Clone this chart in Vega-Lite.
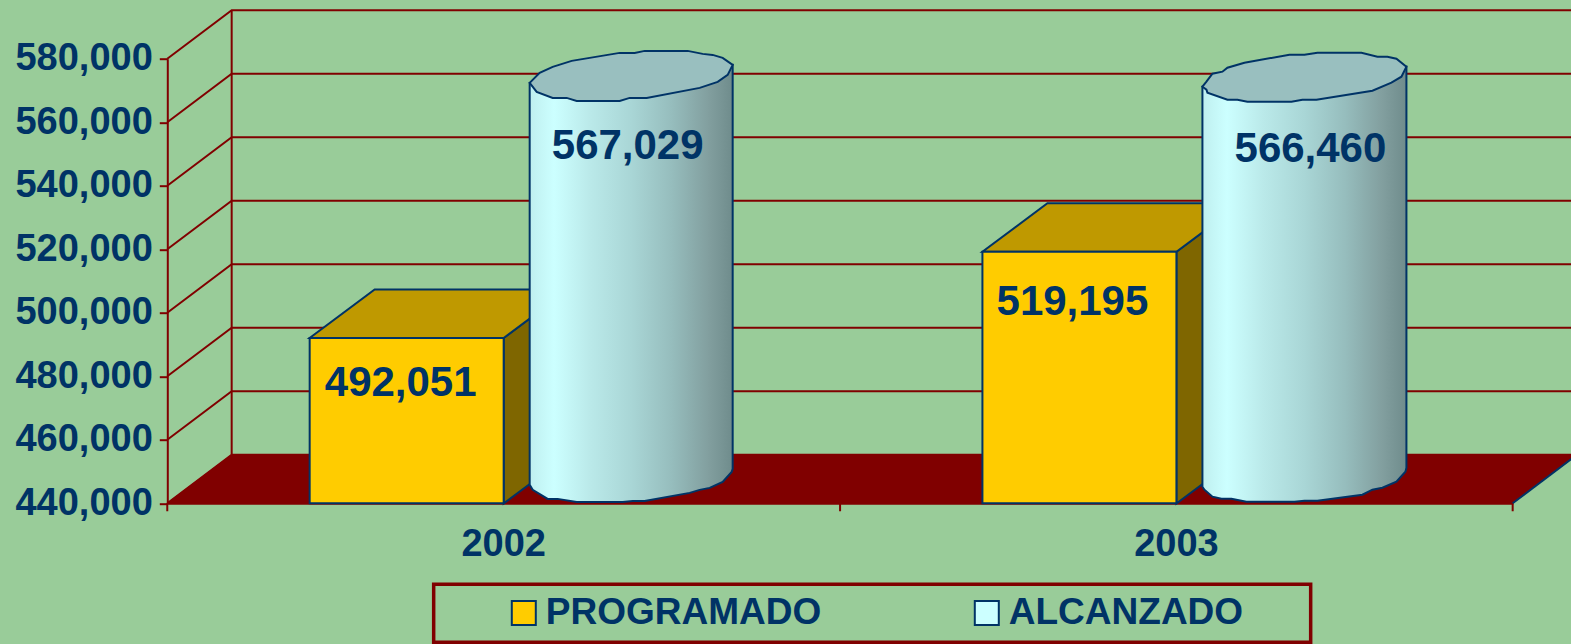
{
"$schema":"https://vega.github.io/schema/vega-lite/v6.json",
"width":1345.5,"height":444.5,
"autosize":{"type":"none"},
"padding":{"left":167.3,"top":58.7,"right":58.2,"bottom":140.8},
"background":"#99CC99",
"config":{"view":{"stroke":null},"font":"Liberation Sans"},
"resolve":{"scale":{"shape":"independent"}},
"datasets":{
"bars":[
{"year":"2002","serie":"PROGRAMADO","value":492051},
{"year":"2002","serie":"ALCANZADO","value":567029},
{"year":"2003","serie":"PROGRAMADO","value":519195},
{"year":"2003","serie":"ALCANZADO","value":566460}],
"ticks":[{"tick":440000},{"tick":460000},{"tick":480000},{"tick":500000},{"tick":520000},{"tick":540000},{"tick":560000},{"tick":580000}]
},
"layer":[
{"data":{"name":"ticks"},
 "mark":{"type":"point","shape":"M-336.4,0 L-272,-48.5 H1075","size":4,"filled":false,"opacity":1,"stroke":"#800000","strokeWidth":2},
 "encoding":{"x":{"datum":"2002","type":"nominal","scale":{"domain":["2002","2003"],"paddingInner":0,"paddingOuter":0},
   "axis":{"title":null,"labelAngle":0,"ticks":false,"domainColor":"#800000","domainWidth":2,"labelPadding":22,"labelFont":"Liberation Sans","labelFontWeight":"bold","labelFontSize":38,"labelColor":"#003366"}},
   "y":{"field":"tick","type":"quantitative","scale":{"domain":[440000,580000],"nice":false,"zero":false},
   "axis":{"title":null,"values":[440000,460000,480000,500000,520000,540000,560000,580000],"labelExpr":"format(datum.value,',')","grid":false,"domainColor":"#800000","domainWidth":2,"tickColor":"#800000","tickWidth":2,"tickSize":8,"labelPadding":7,"labelFont":"Liberation Sans","labelFontWeight":"bold","labelFontSize":38,"labelColor":"#003366"}}}},
{"data":{"name":"bars"},"transform":[{"filter":"datum.year=='2002' && datum.serie=='PROGRAMADO'"}],
 "mark":{"type":"rule","stroke":"#800000","strokeWidth":2,"xOffset":-272,"yOffset":-48.5,"y2Offset":-48.5},
 "encoding":{"x":{"datum":"2002","type":"nominal"},"y":{"datum":440000,"type":"quantitative"},"y2":{"datum":580000}}},
{"data":{"name":"bars"},"transform":[{"filter":"datum.year=='2002' && datum.serie=='PROGRAMADO'"}],
 "mark":{"type":"point","shape":"M-336.4,0 L1009,0 L1073.5,-48.5 L-272,-48.5 Z","size":4,"filled":true,"opacity":1,"fill":"#800000","stroke":"#800000","strokeWidth":1},
 "encoding":{"x":{"datum":"2002","type":"nominal"},"y":{"datum":440000,"type":"quantitative"}}},
{"data":{"name":"bars"},"transform":[{"filter":"datum.year=='2002' && datum.serie=='PROGRAMADO'"}],
 "mark":{"type":"point","shape":"M-336.4,0 V8 M336.4,0 V8 M1009,0 V8","size":4,"filled":false,"opacity":1,"stroke":"#800000","strokeWidth":2},
 "encoding":{"x":{"datum":"2002","type":"nominal"},"y":{"datum":440000,"type":"quantitative"}}},
{"data":{"name":"bars"},"transform":[{"filter":"datum.year=='2002' && datum.serie=='PROGRAMADO'"}],
 "mark":{"type":"point","shape":"M1009,0 L1073.5,-48.5","size":4,"filled":false,"opacity":1,"stroke":"#003366","strokeWidth":2},
 "encoding":{"x":{"datum":"2002","type":"nominal"},"y":{"datum":440000,"type":"quantitative"}}},
{"data":{"name":"bars"},"transform":[{"filter":"datum.year=='2002' && datum.serie=='PROGRAMADO'"}],
 "mark":{"type":"point","shape":"M-70,81 H807 V139 H-70 Z","size":4,"filled":false,"opacity":1,"stroke":"#800000","strokeWidth":3.5},
 "encoding":{"x":{"datum":"2002","type":"nominal"},"y":{"datum":440000,"type":"quantitative"}}},
{"data":{"name":"bars"},"transform":[{"filter":"datum.serie=='PROGRAMADO'"}],
 "mark":{"type":"point","size":4,"filled":true,"opacity":1,"fill":"#7F6600","stroke":"#003366","strokeWidth":2},
 "encoding":{"x":{"field":"year","type":"nominal"},"y":{"field":"value","type":"quantitative"},
  "shape":{"field":"year","type":"nominal","legend":null,"scale":{"domain":["2002","2003"],"range":["M0,0 L65,-48.5 L65,117 L0,165.5 Z","M0,0 L65,-48.5 L65,203.2 L0,251.7 Z"]}}}},
{"data":{"name":"bars"},"transform":[{"filter":"datum.serie=='PROGRAMADO'"}],
 "mark":{"type":"point","shape":"M-194,0 L0,0 L65,-48.5 L-129,-48.5 Z","size":4,"filled":true,"opacity":1,"fill":"#BF9900","stroke":"#003366","strokeWidth":2},
 "encoding":{"x":{"field":"year","type":"nominal"},"y":{"field":"value","type":"quantitative"}}},
{"data":{"name":"bars"},"transform":[{"filter":"datum.serie=='PROGRAMADO'"}],
 "mark":{"type":"bar","width":194,"xOffset":-97,"stroke":"#003366","strokeWidth":2},
 "encoding":{"x":{"field":"year","type":"nominal"},"y":{"field":"value","type":"quantitative"},"y2":{"datum":440000},
  "color":{"field":"serie","type":"nominal","scale":{"domain":["PROGRAMADO","ALCANZADO"],"range":["#FFCC00","#CCFFFF"]},
   "legend":{"title":null,"orient":"none","legendX":338,"legendY":535.5,"direction":"horizontal","columns":2,"columnPadding":147,"padding":0,"symbolType":"square","symbolSize":576,"symbolStrokeColor":"#003366","symbolStrokeWidth":2,"symbolOpacity":1,"labelFont":"Liberation Sans","labelFontWeight":"bold","labelFontSize":37,"labelColor":"#003366","labelLimit":400,"labelOffset":3.5}}}},
{"data":{"name":"bars"},"transform":[{"filter":"datum.serie=='ALCANZADO'"}],
 "mark":{"type":"point","size":4,"filled":true,"opacity":1,"stroke":"#003366","strokeWidth":2,
  "fill":{"gradient":"linear","x1":0,"x2":1,"y1":0,"y2":0,"stops":[{"offset":0,"color":"#BFEFEF"},{"offset":0.12,"color":"#CCFFFF"},{"offset":0.3,"color":"#BAE9E9"},{"offset":0.5,"color":"#A9D6D6"},{"offset":0.7,"color":"#96BDBD"},{"offset":0.88,"color":"#829F9F"},{"offset":1,"color":"#6F8C8C"}]}},
 "encoding":{"x":{"field":"year","type":"nominal"},"y":{"field":"value","type":"quantitative"},
  "shape":{"field":"year","type":"nominal","legend":null,"scale":{"domain":["2002","2003"],"range":[
   "M26,-17 L26,385 L29,390 L44,399 L54,399 L73,402 L119,402 L129,401 L141,401 L186,393 L196,390 L206,388 L219,382 L228,372 L229,369 L229,-35 Z",
   "M26,-15 L26,385 L28,388 L36,395 L45,397 L55,397 L70,400 L118,400 L128,399 L141,399 L186,393 L196,388 L206,386 L220,380 L229,370 L230,366 L230,-35 Z"]}}}},
{"data":{"name":"bars"},"transform":[{"filter":"datum.serie=='ALCANZADO'"}],
 "mark":{"type":"point","size":4,"filled":true,"opacity":1,"fill":"#99BFBF","stroke":"#003366","strokeWidth":2},
 "encoding":{"x":{"field":"year","type":"nominal"},"y":{"field":"value","type":"quantitative"},
  "shape":{"field":"year","type":"nominal","legend":null,"scale":{"domain":["2002","2003"],"range":[
   "M26,-17 L36,-27 L49,-33 L68,-39 L116,-47 L131,-47 L141,-49 L184,-49 L199,-46 L209,-45 L219,-42 L229,-35 L224,-25 L214,-18 L196,-12 L143,-2 L126,-2 L116,1 L73,1 L63,-2 L49,-2 L33,-8 Z",
   "M26,-15 L30,-20 L36,-28 L46,-30 L51,-34 L68,-39 L113,-47 L128,-47 L141,-49 L185,-49 L201,-45 L211,-45 L220,-43 L230,-35 L225,-25 L215,-19 L196,-11 L140,-2 L126,-2 L115,0 L71,0 L61,-2 L51,-2 L31,-9 L30,-12 Z"]}}}},
{"data":{"name":"bars"},"transform":[{"filter":"datum.year=='2002' && datum.serie=='PROGRAMADO'"}],
 "mark":{"type":"text","font":"Liberation Sans","fontWeight":"bold","fontSize":42,"fill":"#003366","baseline":"middle","dx":-103,"dy":45.5},
 "encoding":{"x":{"field":"year","type":"nominal"},"y":{"field":"value","type":"quantitative"},"text":{"field":"value","type":"quantitative","format":","}}},
{"data":{"name":"bars"},"transform":[{"filter":"datum.year=='2003' && datum.serie=='PROGRAMADO'"}],
 "mark":{"type":"text","font":"Liberation Sans","fontWeight":"bold","fontSize":42,"fill":"#003366","baseline":"middle","dx":-104,"dy":50},
 "encoding":{"x":{"field":"year","type":"nominal"},"y":{"field":"value","type":"quantitative"},"text":{"field":"value","type":"quantitative","format":","}}},
{"data":{"name":"bars"},"transform":[{"filter":"datum.year=='2002' && datum.serie=='ALCANZADO'"}],
 "mark":{"type":"text","font":"Liberation Sans","fontWeight":"bold","fontSize":42,"fill":"#003366","baseline":"middle","dx":124,"dy":46},
 "encoding":{"x":{"field":"year","type":"nominal"},"y":{"field":"value","type":"quantitative"},"text":{"field":"value","type":"quantitative","format":","}}},
{"data":{"name":"bars"},"transform":[{"filter":"datum.year=='2003' && datum.serie=='ALCANZADO'"}],
 "mark":{"type":"text","font":"Liberation Sans","fontWeight":"bold","fontSize":42,"fill":"#003366","baseline":"middle","dx":134,"dy":47.5},
 "encoding":{"x":{"field":"year","type":"nominal"},"y":{"field":"value","type":"quantitative"},"text":{"field":"value","type":"quantitative","format":","}}}
]
}
